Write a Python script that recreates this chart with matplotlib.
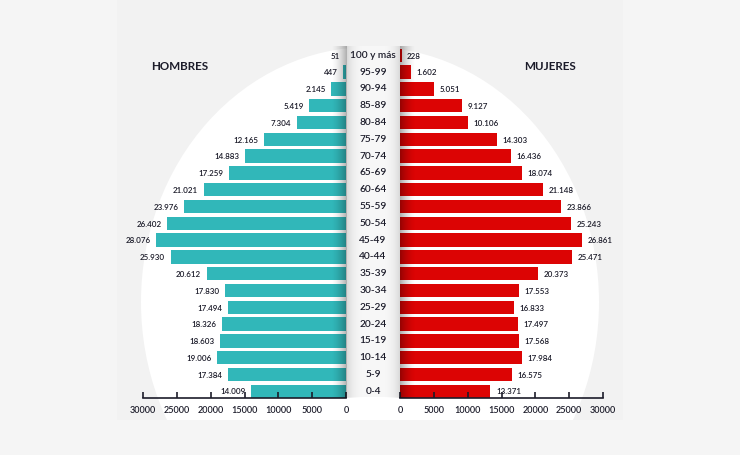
import numpy as np
import matplotlib
matplotlib.use("Agg")
import matplotlib.pyplot as plt
from matplotlib.patches import Ellipse, Rectangle

plt.rcParams['font.family'] = ['Lato', 'DejaVu Sans']

# data, youngest group first
edades = ['0-4', '5-9', '10-14', '15-19', '20-24', '25-29', '30-34', '35-39',
          '40-44', '45-49', '50-54', '55-59', '60-64', '65-69', '70-74',
          '75-79', '80-84', '85-89', '90-94', '95-99', '100 y más']
hombres = [14009, 17384, 19006, 18603, 18326, 17494, 17830, 20612, 25930, 28076,
           26402, 23976, 21021, 17259, 14883, 12165, 7304, 5419, 2145, 447, 51]
mujeres = [13371, 16575, 17984, 17568, 17497, 16833, 17553, 20373, 25471, 26861,
           25243, 23866, 21148, 18074, 16436, 14303, 10106, 9127, 5051, 1602, 228]
ticks = [0, 5000, 10000, 15000, 20000, 25000, 30000]

teal = '#31b7b9'
red = '#dc0404'
txt = '#1c1c2a'

W, H = 740, 455
fig = plt.figure(figsize=(W / 100, H / 100), dpi=100)
fig.patch.set_facecolor('#f5f5f5')

# background: panel + white ellipse
bg = fig.add_axes([0, 0, 1, 1], zorder=-2)
bg.set_xlim(0, W)
bg.set_ylim(H, 0)
bg.axis('off')
panel = Rectangle((117, 0), 506, 420, color='#f2f2f2', lw=0)
bg.add_patch(panel)
ell = Ellipse((370, 302), 458, 510, color='white', lw=0)
bg.add_patch(ell)
ell.set_clip_path(panel)
bg.add_patch(Rectangle((347, 46), 53, 351, color='#f7f7f7', lw=0))


def fmt(v):
    return '{:,}'.format(v).replace(',', '.')


y = np.arange(len(edades))
bottom = 1 - 398 / H
height = 351 / H

axl = fig.add_axes([143 / W, bottom, 203 / W, height], zorder=1)
axr = fig.add_axes([400 / W, bottom, 203 / W, height], zorder=1)

axl.barh(y, hombres, height=0.8, color=teal)
axr.barh(y, mujeres, height=0.8, color=red)
axl.set_xlim(30000, 0)
axr.set_xlim(0, 30000)

for ax, vals, side in [(axl, hombres, -1), (axr, mujeres, 1)]:
    ax.set_ylim(-0.4, 20.5)
    ax.patch.set_alpha(0)
    for s in ['top', 'left', 'right']:
        ax.spines[s].set_visible(False)
    ax.spines['bottom'].set_linewidth(1.2)
    ax.spines['bottom'].set_color(txt)
    ax.set_yticks([])
    ax.set_xticks(ticks)
    ax.set_xticklabels([str(t) for t in ticks], fontweight='semibold')
    ax.tick_params(axis='x', direction='in', length=4, width=1.2, color=txt,
                   labelsize=6.5, labelcolor=txt, pad=6)
    for yi, v in zip(y, vals):
        ax.annotate(fmt(v), (v, yi), xytext=(4 * side, -0.5), textcoords='offset points',
                    ha='left' if side > 0 else 'right', va='center',
                    fontsize=5.8, fontweight='semibold', color=txt, annotation_clip=False)

# overlay: shading near the centre column and labels
ov = fig.add_axes([0, 0, 1, 1], zorder=2)
ov.set_xlim(0, W)
ov.set_ylim(H, 0)
ov.axis('off')
ov.patch.set_alpha(0)

g = np.linspace(0, 1, 64)
shade = np.zeros((1, 64, 4))
shade[0, :, 3] = 0.32 * g ** 1.6
ov.imshow(shade, extent=(331, 347, 398, 46), aspect='auto', interpolation='bilinear')
ov.imshow(shade[:, ::-1], extent=(400, 416, 398, 46), aspect='auto', interpolation='bilinear')
col = np.zeros((1, 64, 4))
d = np.abs(np.linspace(-1, 1, 64))
col[0, :, 3] = 0.12 * d ** 4
ov.imshow(col, extent=(347, 400, 398, 46), aspect='auto', interpolation='bilinear')

for yi, lab in zip(y, edades):
    px = 398 - (yi + 0.4) * (351 / 20.9)
    ov.text(373, px, lab, ha='center', va='center', fontsize=7.3,
            fontweight='semibold', color=txt)

ov.text(180, 66, 'HOMBRES', ha='center', va='center', fontsize=8.4, fontweight='bold', color=txt)
ov.text(550, 66, 'MUJERES', ha='center', va='center', fontsize=8.4, fontweight='bold', color=txt)

fig.savefig('out.png', dpi=100, facecolor=fig.get_facecolor())
